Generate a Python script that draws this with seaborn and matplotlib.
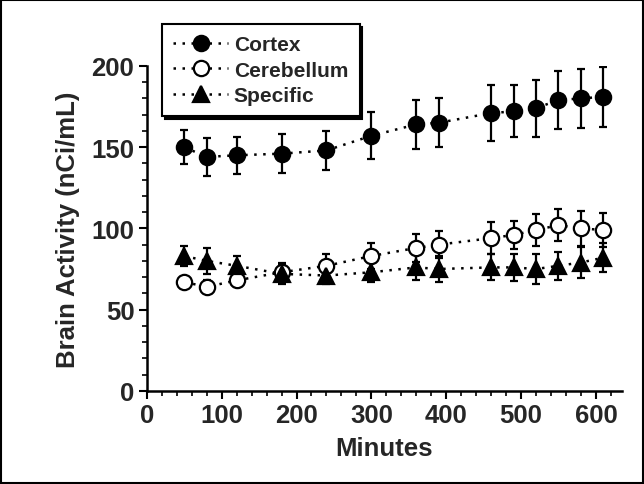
import numpy as np
import pandas as pd
import seaborn as sns
import matplotlib.pyplot as plt
from matplotlib.patches import Rectangle
from matplotlib.ticker import MultipleLocator

# Brain activity over time, three regions, mean +/- error

minutes = [50, 80, 120, 180, 240, 300, 360, 390, 460, 490, 520, 550, 580, 610]

cortex = [150, 144, 145, 146, 148, 157, 164, 165, 171, 172, 174, 179, 180, 181]
cortex_err = [10.5, 11.5, 11.5, 12, 12, 14.5, 15, 15, 17, 16, 17.5, 18, 18, 18.5]

cerebellum = [67, 64, 68, 73, 77, 83, 88, 90, 94, 96, 99, 102, 100, 99]
cerebellum_err = [3, 4, 4, 5, 7, 8, 8.5, 8.5, 10, 8.5, 10, 10, 11, 10.5]

specific = [83, 80, 77, 72, 71, 73, 76, 75, 76, 76, 75, 77, 79, 82]
specific_err = [6, 8, 6, 6.5, 5, 6, 8, 8, 8, 8.5, 9, 8.5, 9.5, 9]

sns.set_style("ticks")
plt.rcParams['font.family'] = ['Liberation Sans', 'DejaVu Sans']
plt.rcParams['font.weight'] = 'bold'

fig = plt.figure(figsize=(6.44, 4.85), dpi=100)
ax = fig.add_axes([0.228, 0.192, 0.738, 0.670])

series = [
    ('Cortex', cortex, cortex_err, 'o', 'black', 11),
    ('Cerebellum', cerebellum, cerebellum_err, 'o', 'white', 11),
    ('Specific', specific, specific_err, '^', 'black', 11),
]

for name, vals, errs, mk, fc, ms in series:
    ax.errorbar(minutes, vals, yerr=errs, fmt='none', ecolor='black',
                elinewidth=1.6, capsize=3, capthick=1.6, zorder=1.5)
    sns.lineplot(x=minutes, y=vals, ax=ax, sort=False, color='black',
                 linestyle=(0, (1, 2.6)), linewidth=1.8, marker=mk, markersize=ms,
                 markerfacecolor=fc, markeredgecolor='black',
                 markeredgewidth=1.6, label=name)

ax.set_xlim(0, 635)
ax.set_ylim(0, 200)
ax.xaxis.set_major_locator(MultipleLocator(100))
ax.xaxis.set_minor_locator(MultipleLocator(20))
ax.yaxis.set_major_locator(MultipleLocator(50))
ax.yaxis.set_minor_locator(MultipleLocator(10))
ax.tick_params(which='major', length=6, width=1.5, direction='out',
               labelsize=18.5, pad=3, color='black')
ax.tick_params(which='minor', length=3.5, width=1.2, direction='out', color='black')
for lbl in ax.get_xticklabels() + ax.get_yticklabels():
    lbl.set_fontweight('bold')
sns.despine(ax=ax)
for s in ['left', 'bottom']:
    ax.spines[s].set_linewidth(1.8)
    ax.spines[s].set_color('black')

ax.set_xlabel('Minutes', fontsize=18.5, fontweight='bold', labelpad=6)
ax.set_ylabel('Brain Activity (nCi/mL)', fontsize=18.5, fontweight='bold', labelpad=8)

leg = ax.legend(loc='upper left', bbox_to_anchor=(162 / 644, 1 - 25 / 485),
                bbox_transform=fig.transFigure, fontsize=15, frameon=True,
                fancybox=False, edgecolor='black', framealpha=1,
                handlelength=2.6, handletextpad=0.3, labelspacing=0.3,
                borderpad=0.55, borderaxespad=0,
                shadow={'color': 'black', 'alpha': 1, 'ox': 2, 'oy': -2})
leg.get_frame().set_linewidth(1.5)
for t in leg.get_texts():
    t.set_fontweight('bold')

fig.patches.append(Rectangle((0.002, 0.003), 0.996, 0.994, transform=fig.transFigure,
                             fill=False, edgecolor='black', linewidth=1.5))

fig.savefig('out.png', dpi=100)
